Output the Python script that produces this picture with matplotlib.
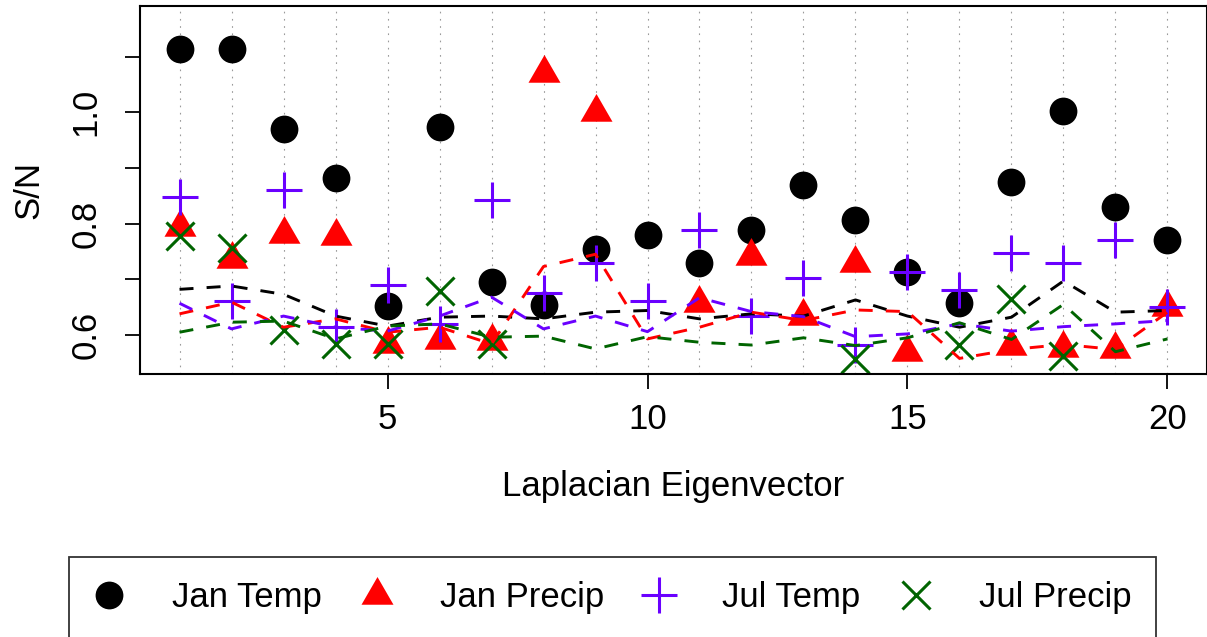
import numpy as np
import matplotlib
matplotlib.use("Agg")
import matplotlib.pyplot as plt
from matplotlib.path import Path
from matplotlib.lines import Line2D

nan = np.nan

# Laplacian eigenvector index
eigvec = list(range(1, 21))

# observed S/N per variable (points outside the y-range are not shown -> nan)
jan_temp = [1.114, 1.114, 0.970, 0.882, 0.652, 0.973, 0.695, 0.654, 0.755, 0.779,
            0.729, 0.789, 0.870, 0.807, 0.714, 0.657, 0.875, 1.002, 0.829, 0.770]
jan_precip = [0.794, 0.736, 0.781, 0.778, 0.584, 0.591, 0.589, 1.070, 1.000, nan,
              0.657, 0.742, 0.634, 0.729, 0.569, nan, 0.580, 0.577, 0.575, 0.650]
jul_temp = [0.848, 0.661, 0.860, 0.615, 0.689, 0.620, 0.843, 0.675, 0.730, 0.661,
            0.788, 0.634, 0.702, 0.582, 0.714, 0.680, 0.748, 0.729, 0.770, 0.650]
jul_precip = [0.777, 0.757, 0.609, 0.584, 0.584, 0.679, 0.584, nan, nan, nan,
              nan, nan, nan, 0.557, nan, 0.582, 0.664, 0.562, nan, nan]

# reference (dashed) curves
jan_temp_ref = [0.682, 0.688, 0.673, 0.634, 0.616, 0.632, 0.634, 0.629, 0.641, 0.644,
                0.629, 0.638, 0.634, 0.663, 0.634, 0.614, 0.632, 0.697, 0.641, 0.644]
jan_precip_ref = [0.638, 0.659, 0.614, 0.629, 0.605, 0.614, 0.584, 0.723, 0.745, 0.593,
                  0.614, 0.641, 0.626, 0.645, 0.642, 0.558, 0.574, 0.583, 0.574, 0.641]
jul_temp_ref = [0.657, 0.611, 0.634, 0.614, 0.607, 0.634, 0.668, 0.611, 0.634, 0.606,
                0.667, 0.642, 0.633, 0.597, 0.602, 0.620, 0.607, 0.615, 0.620, 0.626]
jul_precip_ref = [0.605, 0.623, 0.625, 0.593, 0.616, 0.620, 0.596, 0.598, 0.575, 0.597,
                  0.587, 0.582, 0.595, 0.581, 0.595, 0.622, 0.592, 0.655, 0.570, 0.593]

names = ["Jan Temp", "Jan Precip", "Jul Temp", "Jul Precip"]
colors = ["black", "#FF0000", "#6A00FF", "#006400"]
x_ticks = [5, 10, 15, 20]
y_ticks = [0.6, 0.7, 0.8, 0.9, 1.0, 1.1]
y_tick_labels = ["0.6", "", "0.8", "", "1.0", ""]

plt.rcParams['font.family'] = ['Liberation Sans', 'DejaVu Sans']

# R style filled triangle, centred on its centroid
tri = Path([(0, 1), (-0.866, -0.5), (0.866, -0.5), (0, 1)],
           [Path.MOVETO, Path.LINETO, Path.LINETO, Path.CLOSEPOLY])

styles = [
    dict(marker='o', ms=20, mew=0),
    dict(marker=tri, ms=26.6, mew=0),
    dict(marker='+', ms=26.6, mew=2.2),
    dict(marker='x', ms=19.5, mew=2.2),
]

fig = plt.figure(figsize=(12.07, 6.37), dpi=100)
ax = fig.add_axes([140 / 1207, 1 - 374 / 637, 1067 / 1207, 368 / 637])

for v in eigvec:
    ax.axvline(v, color='#9a9a9a', lw=0.8, dashes=(1.5, 5), zorder=0)

points = [jan_temp, jan_precip, jul_temp, jul_precip]
refs = [jan_temp_ref, jan_precip_ref, jul_temp_ref, jul_precip_ref]

for vals, col, st in zip(points, colors, styles):
    ax.plot(eigvec, vals, linestyle='None', color=col, mfc=col, mec=col, zorder=2, **st)

for vals, col in zip(refs, colors):
    ax.plot(eigvec, vals, color=col, lw=2.1, dashes=(4.8, 4.5), zorder=3)

ax.set_xlim(0.24, 20.76)
ax.set_ylim(0.530, 1.1907)
ax.set_xticks(x_ticks)
ax.set_yticks(y_ticks)
ax.set_yticklabels(y_tick_labels, rotation=90, va='center')
ax.tick_params(labelsize=25, length=11, width=1.3)
ax.tick_params(axis='x', pad=10)
ax.tick_params(axis='y', pad=16)
for s in ax.spines.values():
    s.set_linewidth(1.5)

ax.set_xlabel("Laplacian Eigenvector", fontsize=25)
ax.set_ylabel("S/N", fontsize=25)
ax.xaxis.set_label_coords(0.5, -0.26)
ax.yaxis.set_label_coords(-0.089, 0.5)

handles = [Line2D([], [], linestyle='None', color=c, mfc=c, mec=c, **st)
           for c, st in zip(colors, styles)]
leg = fig.legend(handles, names, loc='upper left', ncol=4,
                 bbox_to_anchor=(69 / 1207, 1 - 557 / 637),
                 fontsize=25, frameon=True, fancybox=False, edgecolor='black',
                 borderpad=0.7, handlelength=0.905, handletextpad=1.363,
                 columnspacing=1.133, borderaxespad=0)
leg.get_frame().set_linewidth(1.3)

fig.savefig("out.png", dpi=100)
